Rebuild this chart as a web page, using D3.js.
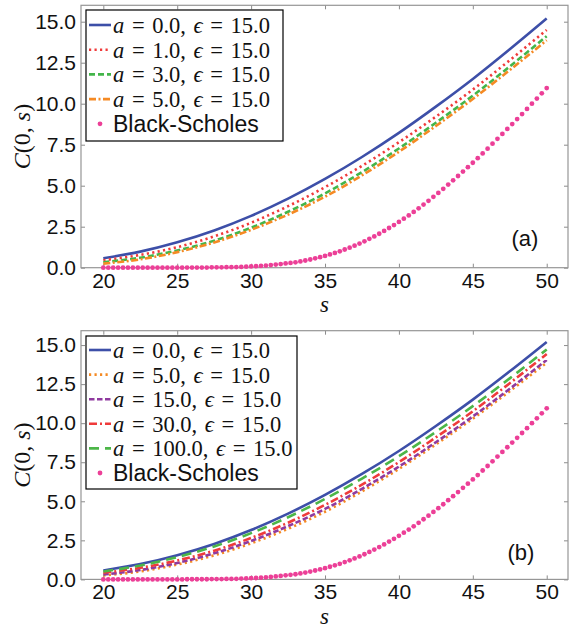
<!DOCTYPE html>
<html>
<head>
<meta charset="utf-8">
<script src="https://cdn.jsdelivr.net/npm/d3@7"></script>
<style>
  body { margin: 0; background: #fff; }
  svg { display: block; }
  .tick text { font-family: "Liberation Sans", Arial, sans-serif; font-size: 21px; fill: #111; }
  .tick line { stroke: #8c8c8c; }
  .math { font-family: "Liberation Serif", "DejaVu Serif", serif; fill: #111; }
  .sans { font-family: "Liberation Sans", Arial, sans-serif; fill: #111; }
</style>
</head>
<body>
<div id="chart"></div>
<script>
// --- data ---
const xTicks = [20, 25, 30, 35, 40, 45, 50];
const yTicks = [0, 2.5, 5, 7.5, 10, 12.5, 15];

// s values for the smooth curves
const sLine = [20, 22.5, 25, 27.5, 30, 32.5, 35, 37.5, 40, 42.5, 45, 47.5, 50];

// C(0,s) for each a (epsilon = 15.0)
const callA0 = [0.57, 0.98, 1.55, 2.27, 3.16, 4.21, 5.41, 6.75, 8.22, 9.82, 11.51, 13.32, 15.2];
const callA1 = [0.45, 0.78, 1.25, 1.91, 2.74, 3.75, 4.91, 6.21, 7.65, 9.21, 10.86, 12.65, 14.5];
const callA3 = [0.33, 0.61, 1.05, 1.65, 2.44, 3.41, 4.53, 5.83, 7.27, 8.84, 10.49, 12.27, 14.12];
const callA5 = [0.25, 0.51, 0.95, 1.54, 2.31, 3.24, 4.33, 5.63, 7.07, 8.64, 10.29, 12.05, 13.87];
const callA15 = [0.31, 0.6, 1.05, 1.67, 2.46, 3.41, 4.51, 5.8, 7.22, 8.78, 10.43, 12.2, 14.05];
const callA30 = [0.43, 0.74, 1.21, 1.84, 2.65, 3.63, 4.77, 6.07, 7.51, 9.09, 10.76, 12.56, 14.43];
const callA100 = [0.51, 0.89, 1.43, 2.11, 2.96, 3.98, 5.15, 6.45, 7.88, 9.44, 11.09, 12.87, 14.72];

// Black-Scholes points, s from 20 to 50 in steps of 1/3
const sDots = d3.range(91).map((i) => 20 + i / 3);
const blackScholes = [
  0, 0, 0, 0, 0, 0, 0, 0, 0, 0, 0, 0, 0, 0, 0, 0, 0,
  0.01, 0.01, 0.01, 0.01, 0.01, 0.02, 0.02, 0.02, 0.03, 0.03,
  0.04, 0.05, 0.06, 0.08, 0.09, 0.11, 0.13, 0.16, 0.19, 0.22,
  0.26, 0.29, 0.33, 0.38, 0.44, 0.5, 0.57, 0.64, 0.72, 0.81,
  0.9, 1.0, 1.11, 1.22, 1.34, 1.47, 1.61, 1.76, 1.91, 2.07,
  2.24, 2.42, 2.6, 2.79, 2.99, 3.19, 3.4, 3.62, 3.85, 4.08,
  4.32, 4.56, 4.81, 5.07, 5.33, 5.59, 5.86, 6.13, 6.4, 6.68,
  6.97, 7.26, 7.56, 7.86, 8.16, 8.46, 8.76, 9.06, 9.37, 9.68,
  10.0, 10.31, 10.63, 10.95
];

const labelsA = ["0.0", "1.0", "3.0", "5.0"];
const labelsB = ["0.0", "5.0", "15.0", "30.0", "100.0"];

// --- styles per series ---
const BLUE = "#3d4fa8", PINK = "#ec3f97";

const panels = [
  {
    name: "(a)", top: 5.3, bottom: 267.7, yMax: 16.0,
    nameX: 525, nameY: 238, titleY: 312,
    box: { x: 86, y: 10, w: 197, h: 131 }, rowY: 25, rowStep: 24.7,
    series: [
      { values: callA0, label: labelsA[0], color: BLUE, dash: null },
      { values: callA1, label: labelsA[1], color: "#f03a3a", dash: "2.2,3.3" },
      { values: callA3, label: labelsA[2], color: "#43b54a", dash: "6,3" },
      { values: callA5, label: labelsA[3], color: "#f58a24", dash: "7,2.5,2,2.5" }
    ]
  },
  {
    name: "(b)", top: 330.7, bottom: 579.4, yMax: 15.92,
    nameX: 521, nameY: 552, titleY: 624,
    box: { x: 86, y: 336, w: 211, h: 153 }, rowY: 350, rowStep: 24.6,
    series: [
      { values: callA0, label: labelsB[0], color: BLUE, dash: null },
      { values: callA5, label: labelsB[1], color: "#f58a24", dash: "2.2,3.3" },
      { values: callA15, label: labelsB[2], color: "#8f3a9f", dash: "5.5,2.5" },
      { values: callA30, label: labelsB[3], color: "#ef3b3b", dash: "8,3,2,3" },
      { values: callA100, label: labelsB[4], color: "#4cb648", dash: "10,6" }
    ]
  }
];

const width = 569, height = 630;
const left = 81, right = 568;

const svg = d3.select("#chart").append("svg")
  .attr("width", width).attr("height", height);

const x = d3.scaleLinear().domain([18.49, 51.44]).range([left, right]);

panels.forEach((p) => {
  const y = d3.scaleLinear().domain([0, p.yMax]).range([p.bottom, p.top]);
  const g = svg.append("g");

  // axes with inward ticks
  g.append("g").attr("transform", `translate(0,${p.bottom})`)
    .call(d3.axisBottom(x).tickValues(xTicks).tickSizeInner(-4).tickSizeOuter(0).tickPadding(5))
    .call((a) => a.select(".domain").remove());
  g.append("g").attr("transform", `translate(${left},0)`)
    .call(d3.axisLeft(y).tickValues(yTicks).tickFormat(d3.format(".1f")).tickSizeInner(-4).tickSizeOuter(0).tickPadding(5))
    .call((a) => a.select(".domain").remove());
  g.append("g").attr("transform", `translate(0,${p.top})`)
    .call(d3.axisTop(x).tickValues(xTicks).tickFormat("").tickSizeInner(-4).tickSizeOuter(0))
    .call((a) => a.select(".domain").remove());
  g.append("g").attr("transform", `translate(${right},0)`)
    .call(d3.axisRight(y).tickValues(yTicks).tickFormat("").tickSizeInner(-4).tickSizeOuter(0))
    .call((a) => a.select(".domain").remove());

  g.append("rect")
    .attr("x", left).attr("y", p.top)
    .attr("width", right - left).attr("height", p.bottom - p.top)
    .attr("fill", "none").attr("stroke", "#969696").attr("stroke-width", 1.2);

  // curves
  const line = d3.line()
    .x((d, i) => x(sLine[i]))
    .y((d) => y(d))
    .curve(d3.curveMonotoneX);

  p.series.forEach((s) => {
    g.append("path")
      .attr("d", line(s.values))
      .attr("fill", "none")
      .attr("stroke", s.color)
      .attr("stroke-width", 2.6)
      .attr("stroke-dasharray", s.dash);
  });

  g.selectAll("circle.bs")
    .data(blackScholes)
    .join("circle")
    .attr("class", "bs")
    .attr("cx", (d, i) => x(sDots[i]))
    .attr("cy", (d) => y(d))
    .attr("r", 2.4)
    .attr("fill", PINK);

  // panel tag
  g.append("text").attr("class", "sans")
    .attr("x", p.nameX).attr("y", p.nameY)
    .attr("text-anchor", "middle").attr("dominant-baseline", "central")
    .style("font-size", "22px")
    .text(p.name);

  // axis titles
  g.append("text").attr("class", "math")
    .attr("x", (left + right) / 2).attr("y", p.titleY)
    .attr("text-anchor", "middle")
    .style("font-size", "23px").style("font-style", "italic")
    .text("s");

  const yt = g.append("text").attr("class", "math")
    .attr("transform", `translate(30,${(p.top + p.bottom) / 2}) rotate(-90)`)
    .attr("text-anchor", "middle")
    .style("font-size", "24px");
  yt.append("tspan").style("font-style", "italic").text("C");
  yt.append("tspan").text("(0, ");
  yt.append("tspan").style("font-style", "italic").text("s");
  yt.append("tspan").text(")");

  // legend
  const b = p.box;
  const lg = g.append("g");
  lg.append("rect")
    .attr("x", b.x).attr("y", b.y).attr("width", b.w).attr("height", b.h)
    .attr("fill", "#fff").attr("stroke", "#000").attr("stroke-width", 1.2);

  p.series.forEach((s, i) => {
    const cy = p.rowY + i * p.rowStep;
    lg.append("line")
      .attr("x1", 89).attr("x2", 111).attr("y1", cy).attr("y2", cy)
      .attr("stroke", s.color).attr("stroke-width", 2.6)
      .attr("stroke-dasharray", s.dash);
    const t = lg.append("text").attr("class", "math")
      .attr("x", 113).attr("y", cy).attr("dominant-baseline", "central")
      .style("font-size", "22.5px").style("word-spacing", "2px");
    t.append("tspan").style("font-style", "italic").text("a");
    t.append("tspan").text(` = ${s.label}, `);
    t.append("tspan").style("font-style", "italic").text("\u03F5");
    t.append("tspan").text(" = 15.0");
  });

  const by = p.rowY + p.series.length * p.rowStep;
  lg.append("circle").attr("cx", 100).attr("cy", by).attr("r", 2.4).attr("fill", PINK);
  lg.append("text").attr("class", "sans")
    .attr("x", 113).attr("y", by).attr("dominant-baseline", "central")
    .style("font-size", "23px")
    .text("Black-Scholes");
});
</script>
</body>
</html>
